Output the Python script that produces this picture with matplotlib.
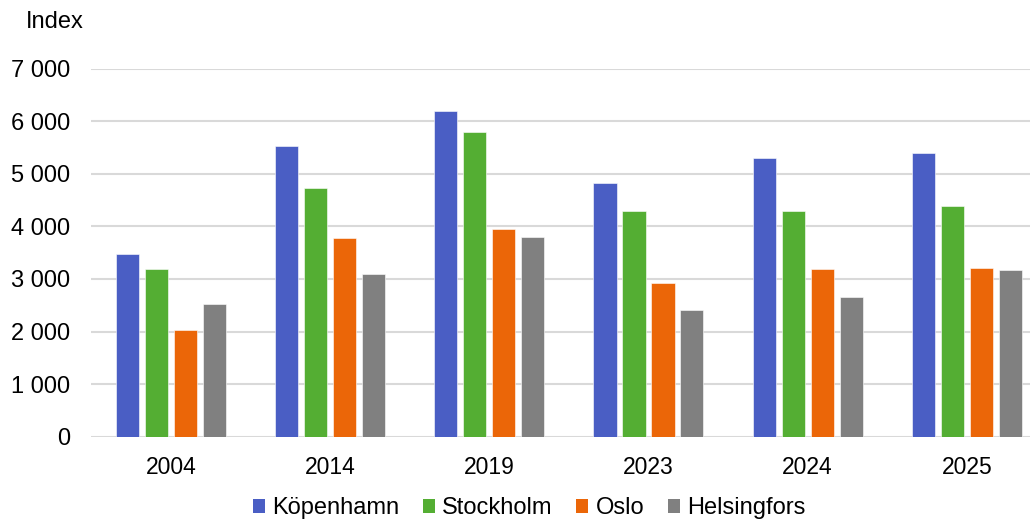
import matplotlib
matplotlib.use("Agg")
import matplotlib.pyplot as plt
import numpy as np
from matplotlib.ticker import FuncFormatter
from matplotlib.patches import Patch

years = ["2004", "2014", "2019", "2023", "2024", "2025"]
series_names = ["Köpenhamn", "Stockholm", "Oslo", "Helsingfors"]
kopenhamn = [3470, 5520, 6190, 4820, 5290, 5390]
stockholm = [3190, 4720, 5790, 4300, 4300, 4390]
oslo = [2020, 3770, 3940, 2930, 3190, 3210]
helsingfors = [2520, 3090, 3800, 2400, 2660, 3160]
yticks = [0, 1000, 2000, 3000, 4000, 5000, 6000, 7000]

colors = ["#4A5EC4", "#54AE33", "#EB6608", "#808080"]
values = [kopenhamn, stockholm, oslo, helsingfors]

plt.rcParams["font.family"] = ["Liberation Sans", "DejaVu Sans"]

W, H = 1030, 522
fig = plt.figure(figsize=(W / 100, H / 100), dpi=100)
# plot area runs slightly past the right edge of the canvas
ax = fig.add_axes([91.4 / W, 1 - 436.7 / H, 955 / W, 368.2 / H])

x = np.arange(len(years))
step = 0.182
width = 0.145
offsets = (np.arange(4) - 1.5) * step
for vals, off, col in zip(values, offsets, colors):
    ax.bar(x + off, vals, width=width, color=col, edgecolor="white",
           linewidth=0.4, zorder=3)

ax.set_xlim(-0.5, len(years) - 0.5)
ax.set_ylim(0, 7000)
ax.set_yticks(yticks)
ax.yaxis.set_major_formatter(FuncFormatter(lambda v, p: f"{int(v):,}".replace(",", " ")))
ax.set_xticks(x)
ax.set_xticklabels(years)
ax.tick_params(axis="y", length=0, labelsize=17, colors="#000000", pad=15)
ax.tick_params(axis="x", length=0, labelsize=16.5, colors="#000000", pad=14)
ax.grid(axis="y", color="#D9D9D9", linewidth=1.5, zorder=0)
for s in ax.spines.values():
    s.set_visible(False)

fig.text(26 / W, 1 - 22 / H, "Index", fontsize=17, va="center", ha="left")

handles = [Patch(facecolor=c, edgecolor="none") for c in colors]
fig.legend(handles, series_names, loc="center", bbox_to_anchor=(529 / W, 1 - 508 / H),
           ncol=4, frameon=False, fontsize=17, handlelength=0.52, handleheight=0.52,
           handletextpad=0.3, columnspacing=1.0)

fig.savefig("out.png", dpi=100)
